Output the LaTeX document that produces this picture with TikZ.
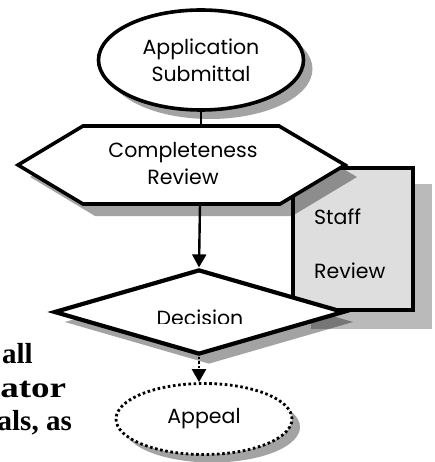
\documentclass[tikz,border=0pt]{standalone}
\usepackage{fontspec}
\setmainfont{Liberation Serif}
\newfontfamily\chartfont{Poppins}
\usetikzlibrary{shapes.geometric,arrows.meta,shadows}
\begin{document}
\begin{tikzpicture}[x=1pt,y=-1pt,
  outline/.style={draw=black,line width=3.6pt,line join=miter},
  boxlabel/.style={font=\chartfont\fontsize{20.5}{27}\selectfont,align=center,inner sep=0pt},
  link/.style={line width=2.4pt},
  castshadow/.style={drop shadow={shadow xshift=#1,shadow yshift=-#1,fill=black,opacity=0.36}},
  castshadow/.default=9pt,
  tip/.style={-{Triangle[length=13pt,width=14pt]}},
  bodytext/.style={font=\bfseries\fontsize{29}{33}\selectfont,inner sep=0pt},
]
\useasboundingbox (0,0) rectangle (434,462);

% tail of the surrounding paragraph
\node[bodytext,anchor=base east] (pA) at (33,363) {all};
\node[bodytext,anchor=base west,xscale=1.28] (pB) at (0,397) {ator};
\node[bodytext,anchor=base east] (pC) at (72,430) {als, as};

% staff review box with its shadow
\fill[black,opacity=0.27] (311,184) rectangle (432,329);
\draw[outline,fill=black!13] (293,168) rectangle (413,310);
\node[boxlabel,anchor=west] (staffA) at (314,217) {Staff};
\node[boxlabel,anchor=west] (staffB) at (314,271) {Review};

% application submittal
\node[ellipse,outline,fill=white,minimum width=205pt,minimum height=100pt,
      boxlabel,castshadow] (app) at (201,60) {Application\\Submittal};

% completeness review (elongated hexagon)
\draw[outline,fill=white,castshadow=12pt]
  (18,165) -- (83,126) -- (279,126) -- (345,165) -- (280,204) -- (83,204) -- cycle;
\node[boxlabel] (compl) at (183,164) {Completeness\\Review};
\coordinate (complN) at (201,126);
\coordinate (complS) at (200,204);

% decision diamond, its label cut off at the bottom
\node[diamond,draw=black,line width=4.2pt,fill=white,inner sep=0pt,
      minimum width=290pt,minimum height=85pt,castshadow=10pt] (dec) at (199,312) {};
\begin{scope}
  \clip (100,290) rectangle (300,323);
  \node[boxlabel,anchor=base] (decT) at (200,325.5) {Decision};
\end{scope}

% appeal
\node[ellipse,draw=black,line width=2.8pt,dash pattern=on 2.6pt off 2.6pt,fill=white,
      minimum width=176pt,minimum height=71pt,boxlabel,castshadow=8pt] (appeal) at (204,419) {Appeal};

% connectors
\draw[link] (app.south) -- (complN);
\draw[link,tip] (complS) -- (dec.north);
\draw[link,tip,dash pattern=on 2.2pt off 2.6pt] (dec.south) -- (dec.south |- appeal.north);
\end{tikzpicture}
\end{document}
